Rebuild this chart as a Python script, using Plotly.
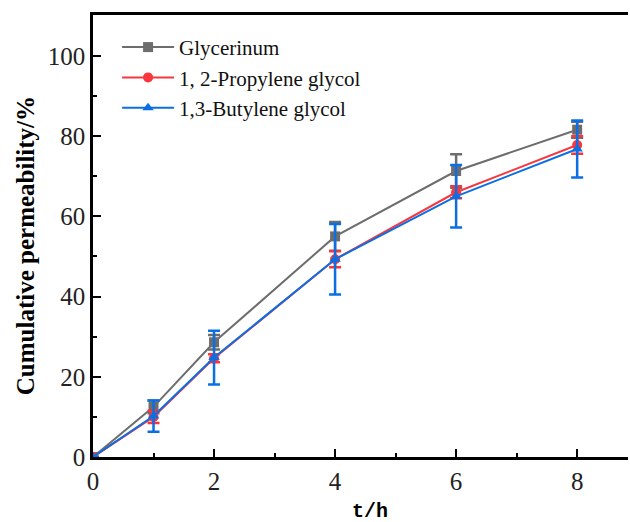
import plotly.graph_objects as go

t = [0, 1, 2, 4, 6, 8]
gly = [0, 12.5, 28.6, 55.0, 71.3, 81.6]
gly_err = [0, 1.6, 1.8, 3.6, 4.2, 2.0]
pro = [0, 10.0, 24.6, 49.3, 66.0, 77.8]
pro_err = [0, 1.5, 1.0, 2.0, 1.5, 2.2]
but = [0, 10.2, 24.8, 49.3, 65.0, 76.8]
but_err = [0, 3.9, 6.7, 8.8, 7.8, 7.1]

names = ["Glycerinum", "1, 2-Propylene glycol", "1,3-Butylene glycol"]
colors = ["#6d6d6d", "#f8363e", "#0b6fe3"]
symbols = ["square", "circle", "triangle-up"]

fig = go.Figure()
for y, e, n, c, s in zip([gly, pro, but], [gly_err, pro_err, but_err], names, colors, symbols):
    fig.add_trace(go.Scatter(
        x=t, y=y, name=n, mode="lines+markers",
        line=dict(color=c, width=2),
        marker=dict(symbol=s, size=10, color=c),
        error_y=dict(type="data", array=e, visible=True, color=c, thickness=2.5, width=6),
    ))

tickfont = dict(family="Liberation Serif", size=25, color="#222")
fig.update_layout(
    width=630, height=522,
    margin=dict(l=93, r=2, t=15, b=65),
    paper_bgcolor="white", plot_bgcolor="white",
    showlegend=True,
    legend=dict(x=0.045, y=0.973, xanchor="left", yanchor="top",
                font=dict(family="Liberation Serif", size=21, color="#111"),
                bgcolor="rgba(0,0,0,0)", tracegroupgap=0, itemwidth=52),
    xaxis=dict(range=[0, 8.84], tickvals=[0, 2, 4, 6, 8], showline=True, linecolor="black",
               linewidth=2.5, mirror=True, ticks="inside", ticklen=8, tickwidth=2,
               tickcolor="black", showgrid=False, zeroline=False, tickfont=tickfont,
               minor=dict(tickvals=[1, 3, 5, 7], ticks="inside", ticklen=4, tickwidth=2, tickcolor="black")),
    yaxis=dict(range=[0, 110.2], tickvals=[0, 20, 40, 60, 80, 100], showline=True, linecolor="black",
               linewidth=2.5, ticks="inside", ticklen=8, tickwidth=2, tickcolor="black",
               showgrid=False, zeroline=False, tickfont=tickfont,
               minor=dict(tickvals=[10, 30, 50, 70, 90, 110], ticks="inside", ticklen=4, tickwidth=2, tickcolor="black")),
    annotations=[
        dict(text="<b>Cumulative permeability/%</b>", xref="paper", yref="paper",
             x=-0.127, y=0.477, xanchor="center", yanchor="middle", textangle=-90,
             showarrow=False, font=dict(family="Liberation Serif", size=25, color="black")),
        dict(text="<b>t/h</b>", xref="paper", yref="paper",
             x=0.518, y=-0.124, xanchor="center", yanchor="middle",
             showarrow=False, font=dict(family="Liberation Mono", size=20, color="black")),
    ],
)
fig.write_html("out.html")
